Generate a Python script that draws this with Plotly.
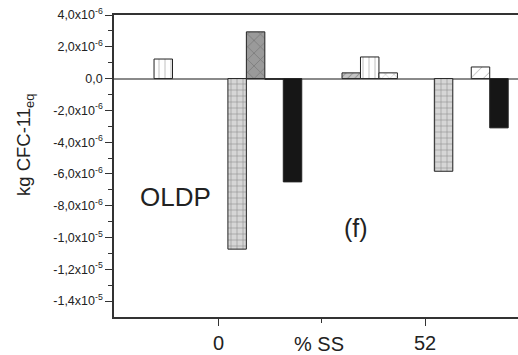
import plotly.graph_objects as go

# Data
categories = ["0", "52"]
x_pos = [0, 1]
s0 = [None, 0.36e-6]      # grey diagonal
s1 = [1.23e-6, 1.36e-6]   # white vertical lines
s2 = [None, 0.36e-6]      # white cross
s3 = [None, None]
s4 = [None, None]
s5 = [-1.073e-5, -5.83e-6]  # light grey grid
s6 = [2.94e-6, None]        # dark cross-hatch
s7 = [-0.05e-6, 0.73e-6]    # white diagonal
s8 = [-6.5e-6, -3.1e-6]     # black

ytick_vals = [4e-6, 2e-6, 0, -2e-6, -4e-6, -6e-6, -8e-6, -1e-5, -1.2e-5, -1.4e-5]
ytick_text = ["4,0x10<sup>-6</sup>", "2,0x10<sup>-6</sup>", "0,0",
              "-2,0x10<sup>-6</sup>", "-4,0x10<sup>-6</sup>", "-6,0x10<sup>-6</sup>",
              "-8,0x10<sup>-6</sup>", "-1,0x10<sup>-5</sup>", "-1,2x10<sup>-5</sup>",
              "-1,4x10<sup>-5</sup>"]
yminor_vals = [3e-6, 1e-6, -1e-6, -3e-6, -5e-6, -7e-6, -9e-6, -1.1e-5, -1.3e-5]

styles = [
    (s0, "#c4c4c4", "#606060", "/", 5, 0.2),
    (s1, "white", "#707070", "|", 6, 0.15),
    (s2, "white", "#606060", "x", 6, 0.15),
    (s3, "white", "black", "", 6, 0.1),
    (s4, "white", "black", "", 6, 0.1),
    (s5, "#d6d6d6", "#404040", "+", 6, 0.18),
    (s6, "#9a9a9a", "#505050", "x", 9, 0.15),
    (s7, "white", "#606060", "/", 9, 0.1),
    (s8, "#161616", "#161616", "", 6, 0.1),
]

fig = go.Figure()
for vals, bg, fg, shape, size, sol in styles:
    fig.add_trace(go.Bar(
        x=x_pos, y=vals,
        marker=dict(color=bg,
                    pattern=dict(shape=shape, bgcolor=bg, fgcolor=fg, size=size, solidity=sol),
                    line=dict(color="#222222", width=1)),
        showlegend=False,
    ))

font_family = "Liberation Sans, Arial, sans-serif"
fig.update_layout(
    width=518, height=355,
    margin=dict(l=114, r=0, t=15, b=38),
    paper_bgcolor="white", plot_bgcolor="white",
    barmode="group", bargap=0.195, bargroupgap=0,
    font=dict(family=font_family, color="#222222"),
    xaxis=dict(
        range=[-0.507, 1.45],
        tickmode="array", tickvals=x_pos, ticktext=categories,
        ticks="outside", ticklen=7, tickcolor="#333333", tickwidth=1,
        tickfont=dict(size=20, family=font_family, color="#222222"),
        showline=True, linecolor="#333333", linewidth=1.5, mirror=True,
        showgrid=False, zeroline=False,
        minor=dict(tickmode="array", tickvals=[0.5], ticks="outside", ticklen=4,
                   tickcolor="#333333"),
    ),
    yaxis=dict(
        range=[-1.5e-5, 4e-6],
        tickmode="array", tickvals=ytick_vals, ticktext=ytick_text,
        ticks="outside", ticklen=7, tickcolor="#333333", tickwidth=1,
        tickfont=dict(size=12.5, family=font_family, color="#222222"),
        showline=True, linecolor="#333333", linewidth=1.5,
        showgrid=False,
        zeroline=True, zerolinecolor="#8a8a8a", zerolinewidth=1.5,
        minor=dict(tickmode="array", tickvals=yminor_vals, ticks="outside", ticklen=4,
                   tickcolor="#333333"),
    ),
    annotations=[
        dict(text="OLDP", x=175, y=355 - 197, showarrow=False,
             font=dict(size=26, family=font_family, color="#222222")),
        dict(text="(f)", x=356, y=355 - 228, showarrow=False,
             font=dict(size=25, family=font_family, color="#222222")),
        dict(text="% SS", x=319, y=355 - 344, showarrow=False,
             font=dict(size=20, family=font_family, color="#222222")),
        dict(text="kg CFC-11<sub>eq</sub>", x=25, y=355 - 145, textangle=-90, showarrow=False,
             font=dict(size=18.5, family=font_family, color="#222222")),
    ],
)

# position annotations in pixel coordinates converted to paper fractions
pw = 518 - 114
ph = 355 - 15 - 38
new_ann = []
for a in fig.layout.annotations:
    px_x = a.x
    px_y_from_bottom = a.y
    a.xref = "paper"
    a.yref = "paper"
    a.x = (px_x - 114) / pw
    a.y = (px_y_from_bottom - 38) / ph
    a.xanchor = "center"
    a.yanchor = "middle"
    new_ann.append(a)
fig.layout.annotations = new_ann

fig.write_html("out.html")
